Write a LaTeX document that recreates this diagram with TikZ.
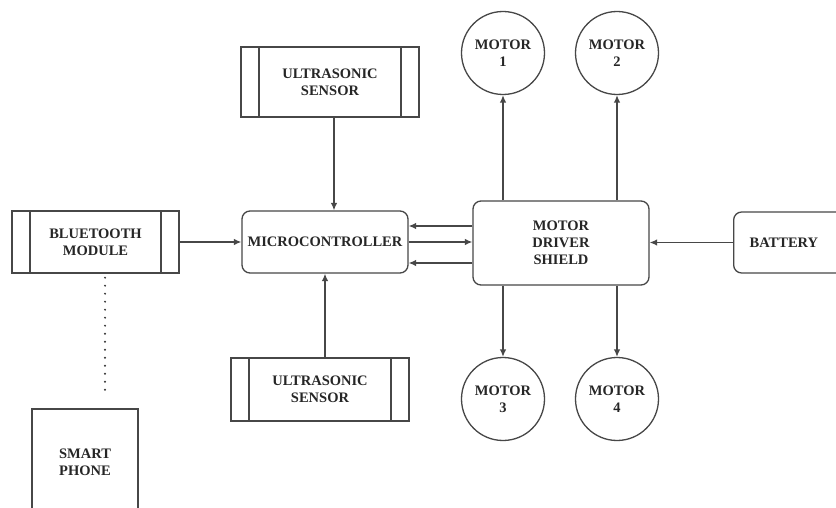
\documentclass[tikz,border=0pt]{standalone}
\usepackage{fontspec}
\setmainfont{Liberation Serif}
\usetikzlibrary{arrows.meta}
\begin{document}
\begin{tikzpicture}[x=1pt,y=-1pt,
  every node/.style={font=\bfseries\fontsize{14.5}{17}\selectfont, text=black!85, align=center, inner sep=0pt},
  ln/.style={draw=black!72, line width=1.3pt},
  subproc/.style={ln, rectangle, path picture={
      \draw[draw=black!72, line width=1.3pt] ([xshift=18pt]path picture bounding box.north west) -- ([xshift=18pt]path picture bounding box.south west);
      \draw[draw=black!72, line width=1.3pt] ([xshift=-18pt]path picture bounding box.north east) -- ([xshift=-18pt]path picture bounding box.south east);}},
  rbox/.style={ln, rectangle, rounded corners=8pt},
  plainbox/.style={ln, rectangle},
  motor/.style={ln, circle, minimum size=83pt},
  arr/.style={draw=black!72, line width=1.3pt, -{Latex[length=7.5pt,width=6.5pt]}},
  dots/.style={draw=black!80, line width=2.2pt, line cap=round, dash pattern=on 0pt off 8pt},
]
\clip (0,0) rectangle (836,508);
\fill[white] (0,0) rectangle (836,508);

\node[subproc, minimum width=167pt, minimum height=62pt] (bt) at (95.5,242) {BLUETOOTH\\MODULE};
\node[rbox, minimum width=166pt, minimum height=62pt] (mc) at (325,242) {MICROCONTROLLER};
\node[rbox, minimum width=176pt, minimum height=84pt] (md) at (561,243) {MOTOR\\DRIVER\\SHIELD};
\node[rbox, anchor=west, minimum height=61pt, text width=118pt, inner xsep=16pt, align=left] (bat) at (733,242.5) {BATTERY};
\node[subproc, minimum width=178pt, minimum height=70pt] (us1) at (330,82) {ULTRASONIC\\SENSOR};
\node[subproc, minimum width=178pt, minimum height=63pt] (us2) at (320,389.5) {ULTRASONIC\\SENSOR};
\node[plainbox, minimum width=106pt, minimum height=106pt] (sp) at (85,462) {SMART\\PHONE};
\node[motor] (m1) at (503,53) {MOTOR\\1};
\node[motor] (m2) at (617,53) {MOTOR\\2};
\node[motor] (m3) at (503,399) {MOTOR\\3};
\node[motor] (m4) at (617,399) {MOTOR\\4};

\draw[arr] (bt.east) -- (mc.west);
\draw[arr] ([xshift=4pt]us1.south) -- ([xshift=4pt]us1.south |- mc.north);
\draw[arr] (us2.north -| mc.south) -- (mc.south);
\draw[arr] (md.west |- 0,226) -- (mc.east |- 0,226);
\draw[arr] (mc.east |- 0,242) -- (md.west |- 0,242);
\draw[arr] (md.west |- 0,263) -- (mc.east |- 0,263);
\draw[arr] (bat.west) -- (bat.west -| md.east);
\draw[arr] (m1.south |- md.north) -- (m1.south);
\draw[arr] (m2.south |- md.north) -- (m2.south);
\draw[arr] (m3.north |- md.south) -- (m3.north);
\draw[arr] (m4.north |- md.south) -- (m4.north);
\draw[dots, shorten <=4pt, shorten >=11pt] ([xshift=9.5pt]bt.south) -- ([xshift=9.5pt]bt.south |- sp.north);
\end{tikzpicture}
\end{document}
